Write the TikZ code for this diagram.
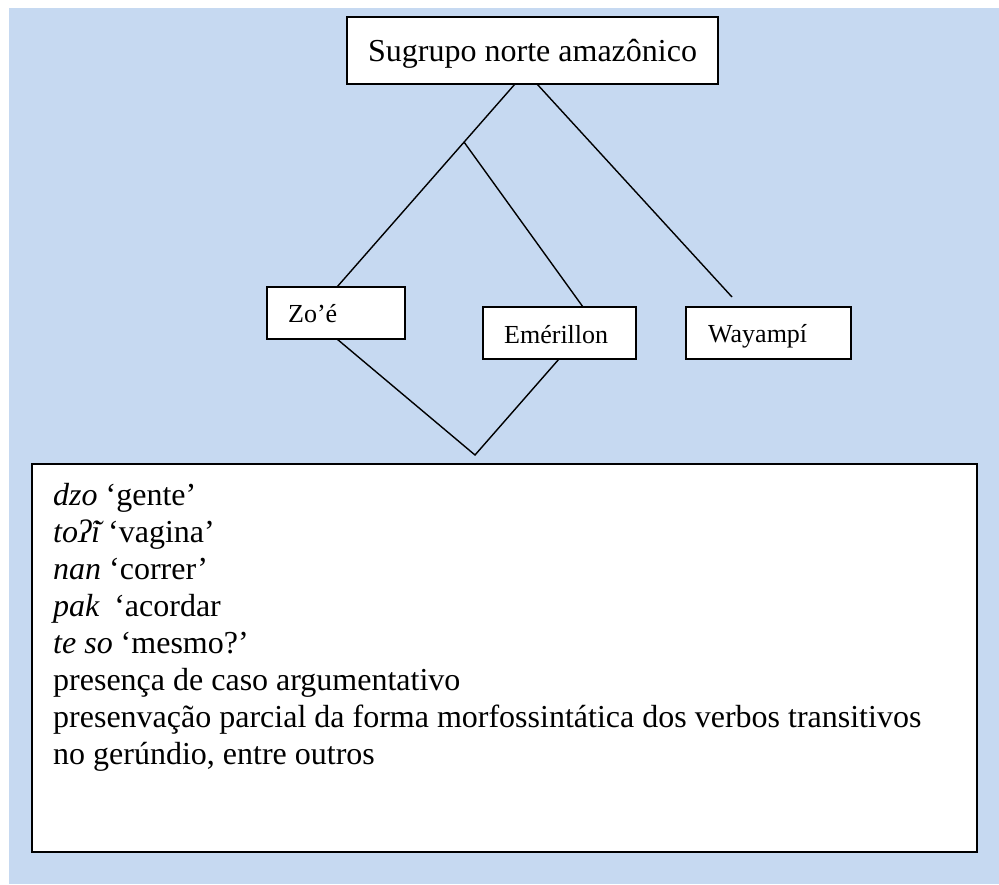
\documentclass[tikz,border=0pt]{standalone}
\usepackage{fontspec}
\setmainfont{Liberation Serif}
\definecolor{bgblue}{RGB}{198,217,241}
\begin{document}
\begin{tikzpicture}[x=1pt,y=-1pt,
  box/.style={draw=black, line width=1.8pt, fill=white, inner sep=0pt},
  conn/.style={line width=1.4pt, draw=black},
  lbl/.style={anchor=base west, inner sep=0pt, font=\fontsize{26}{30}\selectfont},
  bodytext/.style={anchor=base west, inner sep=0pt, font=\fontsize{32}{37}\selectfont}]
\useasboundingbox (0,0) rectangle (999,884);
\fill[bgblue] (9,8) rectangle (999,884);

% boxes
\node[box, minimum width=371pt, minimum height=67pt] (top) at (532.5,50.5) {};
\node[box, minimum width=138pt, minimum height=52pt] (zoe) at (336,313) {};
\node[box, minimum width=153pt, minimum height=52pt] (emer) at (559.5,333) {};
\node[box, minimum width=165pt, minimum height=52pt] (waya) at (768.5,333) {};
\node[box, minimum width=945pt, minimum height=388pt] (feat) at (504.5,658) {};

% connector points
\coordinate (tl) at (515,84);
\coordinate (tr) at (537,84);
\coordinate (br) at (464,142);
\coordinate (zt) at (337,287);
\coordinate (et) at (583,307);
\coordinate (wend) at (732,297);
\coordinate (zb) at (337,339);
\coordinate (eb) at (559,359);
\coordinate (v) at (475,455);

\draw[conn] (tl) -- (zt);
\draw[conn] (br) -- (et);
\draw[conn] (tr) -- (wend);
\draw[conn] (zb) -- (v) -- (eb);

% texts
\node[bodytext] (ttext) at (368,61) {Sugrupo norte amazônico};
\node[lbl] (ztext) at (288,322) {Zo’é};
\node[lbl] (etext) at (504,343) {Emérillon};
\node[lbl] (wtext) at (708,342) {Wayampí};

\node[bodytext] (l1) at (53,505) {\textit{dzo} ‘gente’};
\node[bodytext] (l2) at (53,542) {\textit{toʔ̃i} ‘vagina’};
\node[bodytext] (l3) at (53,579) {\textit{nan} ‘correr’};
\node[bodytext] (l4) at (53,616) {\textit{pak}\hspace{0.45em}‘acordar};
\node[bodytext] (l5) at (53,653) {\textit{te so} ‘mesmo?’};
\node[bodytext] (l6) at (53,690) {presença de caso argumentativo};
\node[bodytext] (l7) at (53,727) {presenvação parcial da forma morfossintática dos verbos transitivos};
\node[bodytext] (l8) at (53,764) {no gerúndio, entre outros};
\end{tikzpicture}
\end{document}
